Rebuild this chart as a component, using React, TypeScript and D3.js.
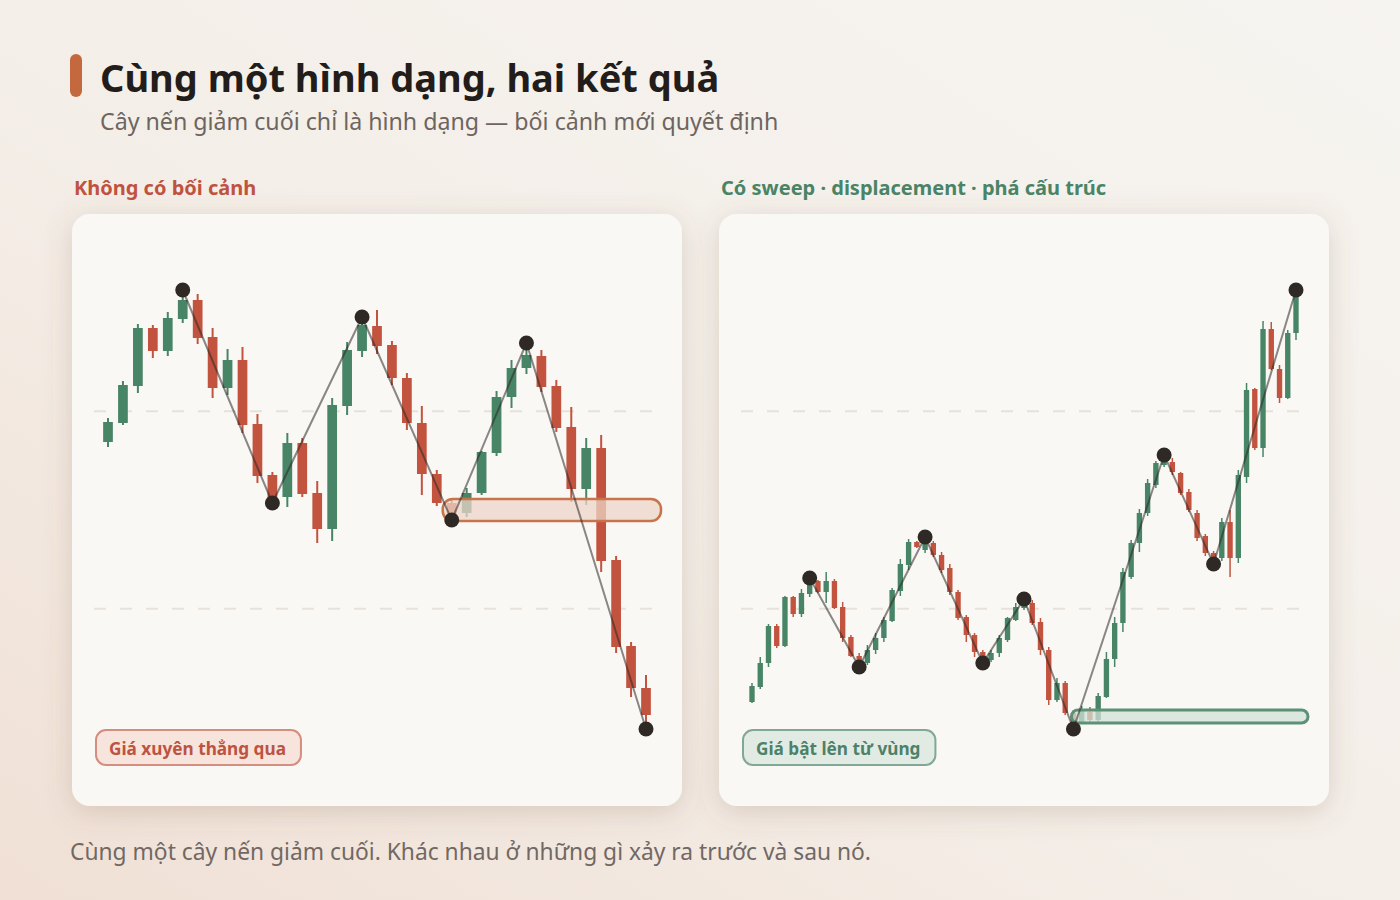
import React, { useRef, useEffect } from "react";
import * as d3 from "d3";

// [open, high, low, close]
type OHLC = [number, number, number, number];
type Pivot = [number, "H" | "L"];

const leftCandles: OHLC[] = [
  [128.7, 131.1, 128.2, 130.7],
  [130.6, 134.8, 130.4, 134.4],
  [134.3, 140.5, 133.6, 140.1],
  [140.1, 140.4, 137.1, 137.8],
  [137.8, 141.7, 137.3, 141.1],
  [141.0, 143.9, 140.6, 142.9],
  [142.9, 143.5, 138.5, 139.1],
  [139.2, 140.1, 133.1, 134.1],
  [134.1, 138.0, 133.4, 136.9],
  [136.9, 138.2, 129.6, 130.4],
  [130.5, 131.5, 124.6, 125.3],
  [125.4, 125.7, 122.6, 123.1],
  [123.2, 129.6, 122.2, 128.6],
  [128.6, 129.1, 123.2, 123.5],
  [123.6, 124.8, 118.6, 120.0],
  [120.0, 133.1, 118.8, 132.4],
  [132.3, 138.7, 131.4, 137.9],
  [137.8, 141.2, 137.2, 140.4],
  [140.3, 141.9, 137.5, 138.3],
  [138.4, 138.8, 134.4, 135.1],
  [135.1, 135.6, 129.9, 130.6],
  [130.6, 132.3, 123.4, 125.5],
  [125.5, 125.9, 122.3, 122.6],
  [122.6, 122.9, 120.9, 121.4],
  [121.6, 124.1, 121.2, 123.6],
  [123.6, 127.8, 123.4, 127.7],
  [127.6, 133.8, 127.3, 133.2],
  [133.2, 136.9, 132.1, 136.1],
  [136.1, 138.6, 135.5, 137.4],
  [137.3, 137.9, 133.7, 134.2],
  [134.3, 134.9, 129.7, 130.1],
  [130.2, 132.2, 122.7, 124.0],
  [124.0, 129.1, 122.4, 128.1],
  [128.1, 129.4, 115.7, 116.8],
  [116.9, 117.3, 107.6, 108.2],
  [108.3, 108.7, 103.2, 104.1],
  [104.1, 105.4, 100.0, 101.4],
];

const rightCandles: OHLC[] = [
  [102.7, 104.6, 102.6, 104.3],
  [104.2, 107.2, 104.0, 106.6],
  [106.6, 110.5, 106.2, 110.3],
  [110.3, 110.5, 108.1, 108.3],
  [108.3, 113.3, 108.2, 113.2],
  [113.2, 113.3, 111.2, 111.5],
  [111.5, 114.0, 111.2, 113.6],
  [113.5, 115.1, 113.2, 114.4],
  [114.8, 114.9, 113.6, 113.7],
  [113.7, 115.7, 112.6, 114.8],
  [114.8, 115.0, 112.0, 112.1],
  [112.2, 112.7, 108.7, 109.1],
  [109.2, 109.4, 107.2, 107.3],
  [107.3, 107.6, 106.2, 106.7],
  [106.6, 108.4, 106.4, 107.9],
  [107.9, 109.6, 107.5, 109.1],
  [109.1, 111.2, 108.7, 110.9],
  [110.8, 114.1, 110.7, 113.9],
  [113.8, 117.0, 113.3, 116.5],
  [116.4, 119.0, 115.9, 118.7],
  [118.7, 118.8, 118.1, 118.2],
  [117.9, 119.2, 117.6, 118.9],
  [118.6, 118.8, 117.2, 117.4],
  [117.4, 117.7, 115.6, 115.9],
  [116.1, 116.5, 113.4, 113.7],
  [113.7, 113.9, 110.9, 111.1],
  [111.2, 111.4, 108.7, 109.4],
  [109.4, 109.6, 107.2, 107.7],
  [107.7, 107.9, 106.6, 107.1],
  [106.9, 107.9, 106.7, 107.6],
  [107.6, 109.4, 107.2, 109.1],
  [108.9, 111.2, 108.7, 111.1],
  [110.9, 112.6, 110.8, 112.2],
  [112.1, 113.0, 111.9, 112.6],
  [112.6, 112.9, 110.4, 110.6],
  [110.7, 111.1, 107.4, 107.9],
  [107.9, 108.2, 102.4, 102.9],
  [102.9, 105.1, 102.7, 104.6],
  [104.6, 104.8, 101.4, 101.6],
  [101.6, 101.9, 100.0, 100.7],
  [100.7, 102.3, 100.5, 102.0],
  [101.7, 102.2, 100.5, 100.9],
  [100.9, 103.6, 100.7, 103.3],
  [103.2, 107.7, 103.1, 107.0],
  [107.0, 111.2, 106.2, 110.6],
  [110.6, 116.1, 109.7, 115.7],
  [115.2, 118.9, 115.0, 118.6],
  [118.6, 122.0, 117.7, 121.6],
  [121.6, 125.0, 121.3, 124.6],
  [124.4, 126.8, 124.1, 126.6],
  [126.4, 127.4, 126.2, 126.9],
  [126.7, 127.1, 125.4, 125.7],
  [125.6, 125.7, 123.4, 123.6],
  [123.7, 124.0, 121.7, 121.9],
  [121.6, 121.9, 118.8, 119.1],
  [119.3, 119.5, 117.3, 117.6],
  [117.6, 117.8, 116.5, 116.9],
  [117.1, 121.1, 116.8, 120.7],
  [120.7, 121.9, 115.2, 117.1],
  [117.1, 125.9, 116.6, 125.4],
  [125.2, 134.6, 124.6, 133.9],
  [134.0, 134.1, 127.9, 128.1],
  [128.1, 140.8, 127.2, 140.0],
  [140.0, 140.7, 135.9, 136.0],
  [136.0, 136.4, 132.6, 133.1],
  [133.1, 139.9, 133.0, 139.6],
  [139.6, 143.9, 138.9, 143.4],
];

const leftPivots: Pivot[] = [[5, "H"], [11, "L"], [17, "H"], [23, "L"], [28, "H"], [36, "L"]];
const rightPivots: Pivot[] = [
  [7, "H"], [13, "L"], [21, "H"], [28, "L"], [33, "H"],
  [39, "L"], [50, "H"], [56, "L"], [66, "H"],
];

// zone: start candle, low, high
const leftZone = [23, 120.8, 123.0];
const rightZone = [39, 100.6, 101.9];

const UP = "#488466";
const DOWN = "#c2533f";

const panels = [
  {
    x: 72, candles: leftCandles, pivots: leftPivots, zone: leftZone, inset: 36, zonePad: 9,
    title: "Không có bối cảnh", titleColor: "#c0533f",
    label: "Giá xuyên thẳng qua", labelColor: "#bd5340", labelFill: "#f7e4dc", labelStroke: "#d48d7e",
    zoneFill: "#ecd6c8", zoneStroke: "#c8744b", wick: 2, zoneWidth: 2.5,
  },
  {
    x: 719, candles: rightCandles, pivots: rightPivots, zone: rightZone, inset: 33, zonePad: 2,
    title: "Có sweep · displacement · phá cấu trúc", titleColor: "#4a8466",
    label: "Giá bật lên từ vùng", labelColor: "#4d8168", labelFill: "#e1ebe4", labelStroke: "#80a895",
    zoneFill: "#d2e2d8", zoneStroke: "#5b9276", wick: 1.5, zoneWidth: 3,
  },
];

const CARD_Y = 214;
const CARD_W = 610;
const CARD_H = 592;
const FONT = "'Noto Sans', 'Open Sans', sans-serif";

const App: React.FC = () => {
  const svgRef = useRef<SVGSVGElement>(null);

  useEffect(() => {
    const svg = d3.select(svgRef.current);
    svg.selectAll("*").remove();

    const defs = svg.append("defs");
    const bg = defs.append("linearGradient").attr("id", "bg")
      .attr("x1", 0).attr("y1", 1).attr("x2", 1).attr("y2", 0);
    bg.append("stop").attr("offset", 0).attr("stop-color", "#f0e0d5");
    bg.append("stop").attr("offset", 0.45).attr("stop-color", "#f4eee8");
    bg.append("stop").attr("offset", 1).attr("stop-color", "#f6f4f0");

    const shadow = defs.append("filter").attr("id", "shadow")
      .attr("x", "-20%").attr("y", "-20%").attr("width", "140%").attr("height", "140%");
    shadow.append("feDropShadow").attr("dx", 0).attr("dy", 6).attr("stdDeviation", 14)
      .attr("flood-color", "#7a5a40").attr("flood-opacity", 0.22);

    svg.append("rect").attr("width", 1400).attr("height", 900).attr("fill", "url(#bg)");

    // header
    svg.append("rect").attr("x", 70).attr("y", 54).attr("width", 12).attr("height", 43)
      .attr("rx", 6).attr("fill", "#c4693e");
    svg.append("text").attr("x", 100).attr("y", 92)
      .attr("font-family", FONT).attr("font-size", 38).attr("font-weight", 700)
      .attr("fill", "#221d1a").text("Cùng một hình dạng, hai kết quả");
    svg.append("text").attr("x", 100).attr("y", 130)
      .attr("font-family", FONT).attr("font-size", 23.2)
      .attr("fill", "#6d6560").text("Cây nến giảm cuối chỉ là hình dạng — bối cảnh mới quyết định");

    panels.forEach(p => {
      const n = p.candles.length;
      const x = d3.scalePoint<number>().domain(d3.range(n)).range([p.inset, CARD_W - p.inset]);
      const y = d3.scaleLinear()
        .domain([d3.min(p.candles, d => d[2]) as number, d3.max(p.candles, d => d[1]) as number])
        .range([CARD_H - 77, 76]);
      const bw = x.step() * 0.65;

      svg.append("text").attr("x", p.x + 2).attr("y", CARD_Y - 19)
        .attr("font-family", FONT).attr("font-size", 20).attr("font-weight", 700)
        .attr("fill", p.titleColor).text(p.title);

      const g = svg.append("g").attr("transform", `translate(${p.x}, ${CARD_Y})`);
      g.append("rect").attr("width", CARD_W).attr("height", CARD_H).attr("rx", 18)
        .attr("fill", "#faf8f5").attr("filter", "url(#shadow)");

      // dashed guides
      g.selectAll("line.grid").data([CARD_H / 3, (CARD_H * 2) / 3]).enter()
        .append("line").attr("class", "grid")
        .attr("x1", 22).attr("x2", CARD_W - 22).attr("y1", d => d).attr("y2", d => d)
        .attr("stroke", "#e7e1da").attr("stroke-width", 2).attr("stroke-dasharray", "12 14");

      // candles
      const c = g.selectAll("g.candle").data(p.candles).enter().append("g").attr("class", "candle");
      c.append("line")
        .attr("x1", (_, i) => x(i) as number).attr("x2", (_, i) => x(i) as number)
        .attr("y1", d => y(d[1])).attr("y2", d => y(d[2]))
        .attr("stroke", d => (d[3] >= d[0] ? UP : DOWN)).attr("stroke-width", p.wick);
      c.append("rect")
        .attr("x", (_, i) => (x(i) as number) - bw / 2).attr("width", bw)
        .attr("y", d => y(Math.max(d[0], d[3])))
        .attr("height", d => Math.max(1.5, Math.abs(y(d[0]) - y(d[3]))))
        .attr("fill", d => (d[3] >= d[0] ? UP : DOWN));

      // zone
      const [zi, zlo, zhi] = p.zone;
      const zx = (x(zi) as number) - p.zonePad;
      const zh = y(zlo) - y(zhi);
      g.append("rect").attr("x", zx).attr("y", y(zhi))
        .attr("width", CARD_W - 21 - zx).attr("height", zh).attr("rx", Math.min(zh / 2, 10))
        .attr("fill", p.zoneFill).attr("fill-opacity", 0.75)
        .attr("stroke", p.zoneStroke).attr("stroke-width", p.zoneWidth);

      // zigzag
      const pts = p.pivots.map(([i, t]) => [x(i) as number, y(t === "H" ? p.candles[i][1] : p.candles[i][2])] as [number, number]);
      g.append("path").attr("d", d3.line()(pts) as string)
        .attr("fill", "none").attr("stroke", "#2e2824").attr("stroke-opacity", 0.55)
        .attr("stroke-width", 2);
      g.selectAll("circle.pivot").data(pts).enter().append("circle").attr("class", "pivot")
        .attr("cx", d => d[0]).attr("cy", d => d[1]).attr("r", 7.5).attr("fill", "#2f2925");

      // label pill
      const lg = g.append("g").attr("transform", `translate(24, 516)`);
      const lr = lg.append("rect").attr("height", 35).attr("rx", 10)
        .attr("fill", p.labelFill).attr("stroke", p.labelStroke).attr("stroke-width", 2);
      const lt = lg.append("text").attr("x", 13).attr("y", 24.5)
        .attr("font-family", FONT).attr("font-size", 17.2).attr("font-weight", 700)
        .attr("fill", p.labelColor).text(p.label);
      const tw = (lt.node() as SVGTextElement).getComputedTextLength();
      lr.attr("width", tw + 28);
    });

    svg.append("text").attr("x", 70).attr("y", 860)
      .attr("font-family", FONT).attr("font-size", 22.8)
      .attr("fill", "#716864").text("Cùng một cây nến giảm cuối. Khác nhau ở những gì xảy ra trước và sau nó.");
  }, []);

  return (
    <svg ref={svgRef} width={1400} height={900}
      style={{ position: "absolute", left: 0, top: 0, display: "block" }} />
  );
};

export default App;
